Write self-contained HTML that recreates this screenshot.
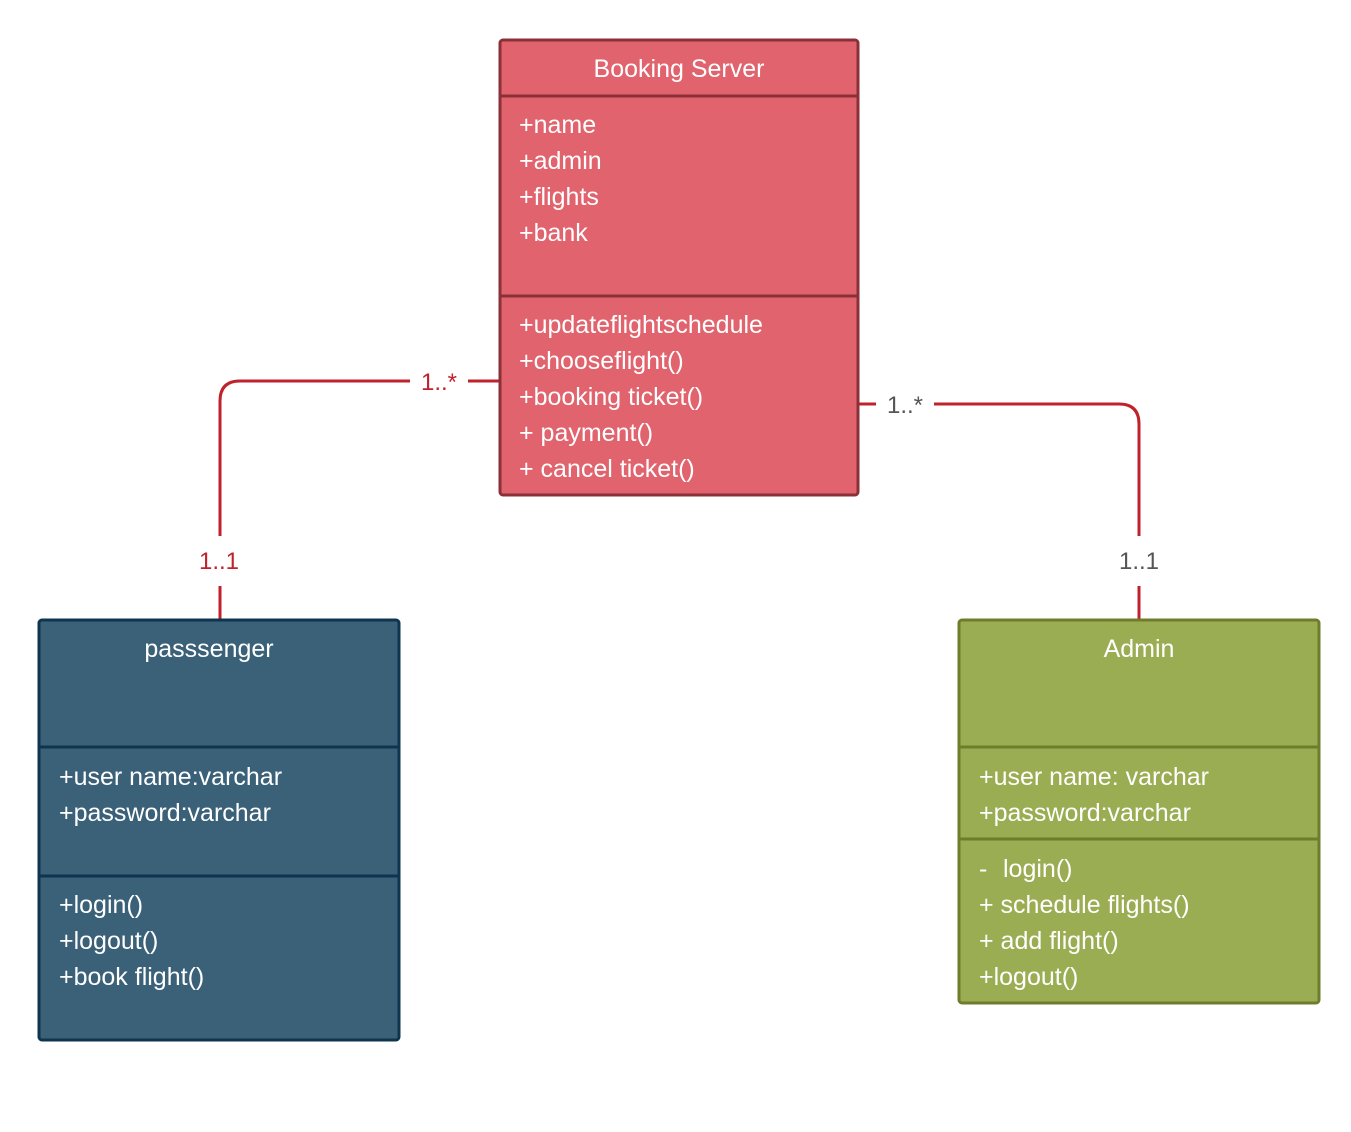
<!DOCTYPE html>
<html><head><meta charset="utf-8"><style>body{margin:0;background:#fff}</style></head>
<body>
<svg width="1351" height="1127" viewBox="0 0 1351 1127" xmlns="http://www.w3.org/2000/svg" font-family="Liberation Sans, sans-serif">
<rect width="1351" height="1127" fill="#fff"/>
<!-- connectors -->
<path d="M499 381 H468 M410 381 H240 Q220 381 220 401 V536 M220 586 V620" stroke="#c0222c" stroke-width="3" fill="none"/>
<path d="M845 404 H876 M934 404 H1119 Q1139 404 1139 424 V536 M1139 586 V620" stroke="#c0222c" stroke-width="3" fill="none"/>
<g font-size="24" text-anchor="middle">
<text x="439" y="390" fill="#c0222c">1..*</text>
<text x="219" y="569" fill="#c0222c">1..1</text>
<text x="905" y="413" fill="#555">1..*</text>
<text x="1139" y="569" fill="#555">1..1</text>
</g>
<!-- Booking Server -->
<rect x="500" y="40" width="358" height="455" rx="3" fill="#e0636d" stroke="#8b3039" stroke-width="3"/>
<line x1="500" y1="96" x2="858" y2="96" stroke="#8b3039" stroke-width="3"/>
<line x1="500" y1="296" x2="858" y2="296" stroke="#8b3039" stroke-width="3"/>
<g fill="#fff" font-size="25">
<text x="679" y="77" text-anchor="middle">Booking Server</text>
<text x="519" y="133">+name</text>
<text x="519" y="169">+admin</text>
<text x="519" y="205">+flights</text>
<text x="519" y="241">+bank</text>
<text x="519" y="333">+updateflightschedule</text>
<text x="519" y="369">+chooseflight()</text>
<text x="519" y="405">+booking ticket()</text>
<text x="519" y="441">+ payment()</text>
<text x="519" y="477">+ cancel ticket()</text>
</g>
<!-- passenger -->
<rect x="39" y="620" width="360" height="420" rx="3" fill="#3a6178" stroke="#0e3450" stroke-width="3"/>
<line x1="39" y1="747" x2="399" y2="747" stroke="#0e3450" stroke-width="3"/>
<line x1="39" y1="876" x2="399" y2="876" stroke="#0e3450" stroke-width="3"/>
<g fill="#fff" font-size="25">
<text x="209" y="657" text-anchor="middle">passsenger</text>
<text x="59" y="785">+user name:varchar</text>
<text x="59" y="821">+password:varchar</text>
<text x="59" y="913">+login()</text>
<text x="59" y="949">+logout()</text>
<text x="59" y="985">+book flight()</text>
</g>
<!-- Admin -->
<rect x="959" y="620" width="360" height="383" rx="3" fill="#9aad52" stroke="#6e7d2c" stroke-width="3"/>
<line x1="959" y1="747" x2="1319" y2="747" stroke="#6e7d2c" stroke-width="3"/>
<line x1="959" y1="839" x2="1319" y2="839" stroke="#6e7d2c" stroke-width="3"/>
<g fill="#fff" font-size="25">
<text x="1139" y="657" text-anchor="middle">Admin</text>
<text x="979" y="785">+user name: varchar</text>
<text x="979" y="821">+password:varchar</text>
<text x="979" y="877">-</text>
<text x="1003" y="877">login()</text>
<text x="979" y="913">+ schedule flights()</text>
<text x="979" y="949">+ add flight()</text>
<text x="979" y="985">+logout()</text>
</g>
</svg>
</body></html>
